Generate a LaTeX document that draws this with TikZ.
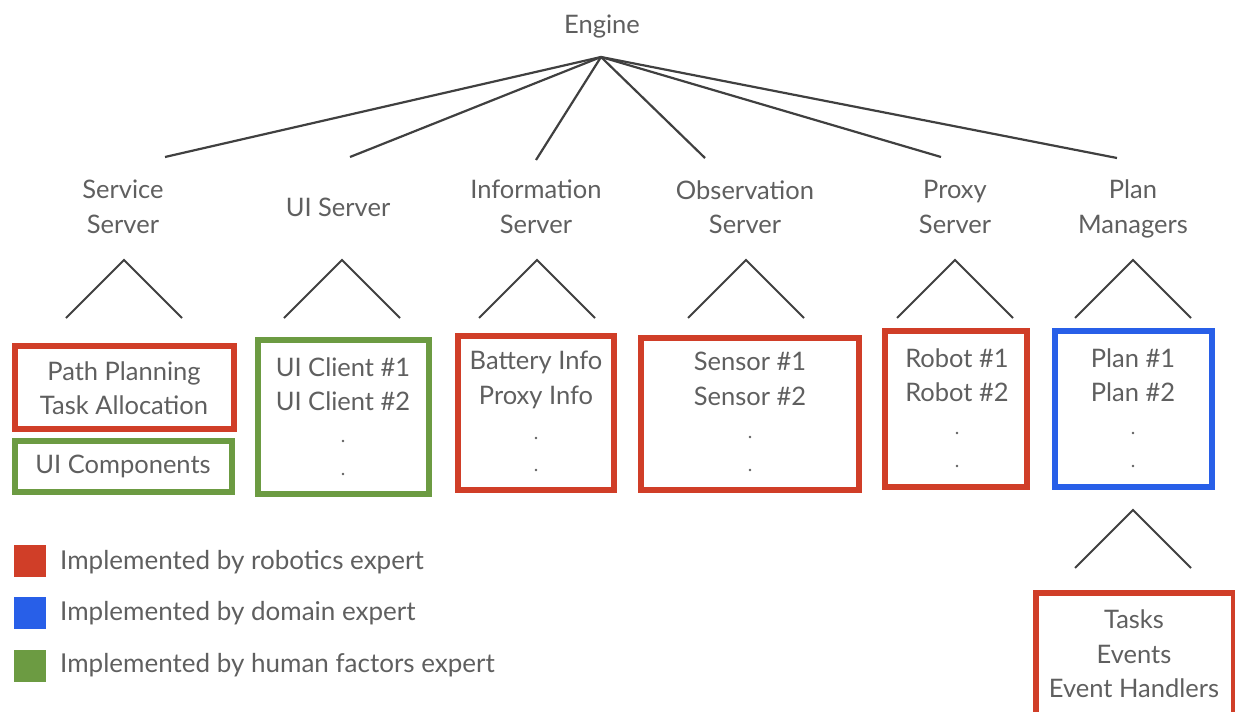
\documentclass[tikz,border=0pt]{standalone}
\usepackage{fontspec}
\setmainfont{Lato}
\definecolor{rred}{RGB}{208,62,40}
\definecolor{bblue}{RGB}{40,95,232}
\definecolor{ggreen}{RGB}{108,155,66}
\definecolor{txt}{RGB}{95,95,95}
\definecolor{ln}{RGB}{64,64,64}
\tikzset{
  lbl/.style={font=\fontsize{25.5}{34.5}\selectfont, text=txt, align=center, inner sep=0pt},
  conn/.style={draw=ln, line width=2.2pt},
  caret/.style={draw=ln, line width=2pt},
  boxs/.style={line width=6pt, inner sep=0pt},
  dotm/.style={fill=txt},
  swatch/.style={minimum width=32pt, minimum height=32pt, inner sep=0pt},
  leg/.style={font=\fontsize{26}{30}\selectfont, text=txt, anchor=west, inner sep=0pt}
}
\begin{document}
\begin{tikzpicture}[x=1pt,y=-1pt]
\useasboundingbox (0,0) rectangle (1235,712);
% top
\node[lbl] (engine) at (602,27) {Engine};
\coordinate (hub) at (601,57);
\node[lbl] (ss) at (123,207) {Service\\Server};
\node[lbl] (uis) at (338,207) {UI Server};
\node[lbl] (ins) at (536,207) {Information\\Server};
\node[lbl] (obs) at (745,207) {Observation\\Server};
\node[lbl] (prs) at (955,207) {Proxy\\Server};
\node[lbl] (pm) at (1133,209) {Plan\\Managers};
\coordinate (e1) at (165,157);
\coordinate (e2) at (350,157);
\coordinate (e3) at (536,160);
\coordinate (e4) at (705,158);
\coordinate (e5) at (941,157);
\coordinate (e6) at (1117,158);
\foreach \e in {e1,e2,e3,e4,e5,e6} \draw[conn] (hub) -- (\e);
% carets
\foreach \n/\cx in {c1/124,c2/342,c3/537,c4/746,c5/955,c6/1133}{
  \coordinate (\n top) at (\cx,260);
  \coordinate (\n l) at (\cx-58,318);
  \coordinate (\n r) at (\cx+58,318);
  \draw[caret] (\n l) -- (\n top) -- (\n r);
}
\coordinate (c7top) at (1133,510);
\coordinate (c7l) at (1075,568);
\coordinate (c7r) at (1191,568);
\draw[caret] (c7l) -- (c7top) -- (c7r);
% boxes
\node[boxs, draw=rred, minimum width=219pt, minimum height=83pt] (pp) at (124.5,387.5) {};
\node[boxs, draw=ggreen, minimum width=217pt, minimum height=51pt] (uic) at (123.5,466.5) {};
\node[boxs, draw=ggreen, minimum width=171pt, minimum height=154pt] (ucl) at (343.5,417) {};
\node[boxs, draw=rred, minimum width=156pt, minimum height=154pt] (bat) at (536,413) {};
\node[boxs, draw=rred, minimum width=218pt, minimum height=152pt] (sen) at (750,414) {};
\node[boxs, draw=rred, minimum width=142pt, minimum height=156pt] (rob) at (956,409) {};
\node[boxs, draw=bblue, minimum width=157pt, minimum height=156pt] (pln) at (1133.5,409) {};
\node[boxs, draw=rred, minimum width=198pt, minimum height=140pt] (tsk) at (1135,663) {};
% box texts
\node[lbl] (tpp) at (124,388) {Path Planning\\Task Allocation};
\node[lbl] (tuic) at (123,466) {UI Components};
\node[lbl] (tucl) at (343,384) {UI Client \#1\\UI Client \#2};
\node[lbl] (tbat) at (536,380) {Battery Info\\Proxy Info};
\node[lbl] (tsen) at (750,379) {Sensor \#1\\Sensor \#2};
\node[lbl] (trob) at (957,375) {Robot \#1\\Robot \#2};
\node[lbl] (tpln) at (1133,375) {Plan \#1\\Plan \#2};
\node[lbl] (ttsk) at (1134,654) {Tasks\\Events\\Event Handlers};
% dots
\foreach \x/\ya/\yb in {343/441/474, 536/438/470, 750/437/470, 957/433/466, 1133/433/466}{
  \fill[dotm] (\x,\ya) circle (1.3pt);
  \fill[dotm] (\x,\yb) circle (1.3pt);
}
% legend
\node[swatch, fill=rred] (sr) at (30,561) {};
\node[swatch, fill=bblue] (sb) at (30,613) {};
\node[swatch, fill=ggreen] (sg) at (30,666) {};
\node[leg] (lr) at (60,562) {Implemented by robotics expert};
\node[leg] (lb) at (60,613) {Implemented by domain expert};
\node[leg] (lg) at (60,665) {Implemented by human factors expert};
\end{tikzpicture}
\end{document}
